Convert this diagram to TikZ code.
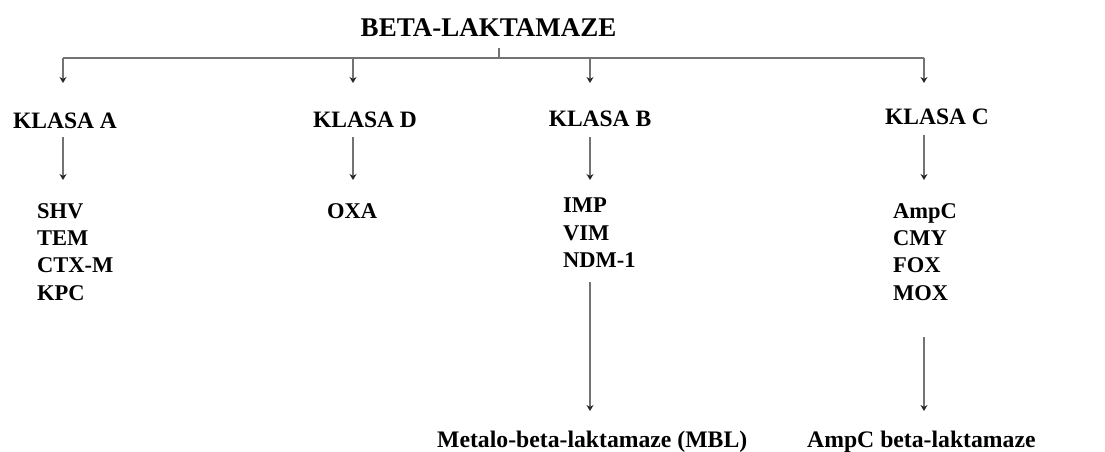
\documentclass[tikz,border=0pt]{standalone}
\usepackage{fontspec}
\setmainfont{Liberation Serif}[BoldFont={Liberation Serif Bold}]
\usetikzlibrary{arrows.meta}
\begin{document}
\begin{tikzpicture}[x=1pt,y=-1pt,
  ttl/.style={inner sep=0pt,anchor=base,font=\fontsize{27}{31}\selectfont\bfseries},
  cls/.style={inner sep=0pt,anchor=base,font=\fontsize{23.5}{28}\selectfont\bfseries},
  lst/.style={inner sep=0pt,anchor=north west,align=left,font=\fontsize{22.5}{27.4}\selectfont\bfseries},
  btm/.style={inner sep=0pt,anchor=base west,font=\fontsize{23.7}{28}\selectfont\bfseries},
  ln/.style={draw=black!55,line width=1.3pt},
  arr/.style={ln,-{Stealth[length=6pt,width=7pt,black!85]}}]
\useasboundingbox[fill=white] (0,0) rectangle (1105,452);
% title
\node[ttl] (title) at (488.5,37) {BETA-LAKTAMAZE};
\coordinate (stubT) at (499,48);
\coordinate (stubB) at (499,58);
\coordinate (barL) at (63,58);
\coordinate (barD) at (353,58);
\coordinate (barB) at (590,58);
\coordinate (barR) at (924,58);
\draw[ln] (stubT) -- (stubB);
\draw[ln] (barL) -- (barR);
% classes
\node[cls] (kA) at (65,128) {KLASA A};
\node[cls] (kD) at (365,127) {KLASA D};
\node[cls] (kB) at (600,126) {KLASA B};
\node[cls] (kC) at (937,124) {KLASA C};
\coordinate (tA) at (63,83);
\coordinate (tD) at (353,83);
\coordinate (tB) at (590,83);
\coordinate (tC) at (924,83);
\draw[arr] (barL) -- (tA);
\draw[arr] (barD) -- (tD);
\draw[arr] (barB) -- (tB);
\draw[arr] (barR) -- (tC);
% lists
\node[lst] (lA) at (37,203) {SHV\\TEM\\CTX-M\\KPC};
\node[lst] (lD) at (327,203) {OXA};
\node[lst] (lB) at (563,198) {IMP\\VIM\\NDM-1};
\node[lst] (lC) at (893,203) {AmpC\\CMY\\FOX\\MOX};
\coordinate (sA) at (63,137);
\coordinate (sD) at (353,137);
\coordinate (sB) at (590,137);
\coordinate (sC) at (924,135);
\coordinate (eA) at (63,180);
\coordinate (eD) at (353,180);
\coordinate (eB) at (590,180);
\coordinate (eC) at (924,180);
\draw[arr] (sA) -- (eA);
\draw[arr] (sD) -- (eD);
\draw[arr] (sB) -- (eB);
\draw[arr] (sC) -- (eC);
% bottom
\node[btm] (mbl) at (437,447) {Metalo-beta-laktamaze (MBL)};
\node[btm] (ampc) at (807,447) {AmpC beta-laktamaze};
\coordinate (lbS) at (590,282);
\coordinate (lbE) at (590,411);
\coordinate (lcS) at (924,337);
\coordinate (lcE) at (924,411);
\draw[arr] (lbS) -- (lbE);
\draw[arr] (lcS) -- (lcE);
\end{tikzpicture}
\end{document}
